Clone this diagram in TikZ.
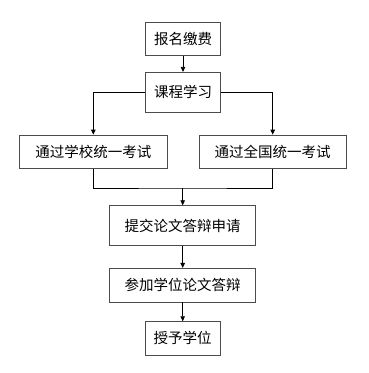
\documentclass[tikz,border=0pt]{standalone}
\usepackage{fontspec}
\setmainfont{Noto Sans CJK SC}
\usetikzlibrary{arrows.meta}
\begin{document}
\begin{tikzpicture}[x=1pt,y=-1pt,
  box/.style={draw=black!70,line width=0.8pt,inner sep=0pt,font=\fontsize{14.5}{16}\selectfont},
  conn/.style={draw=black,line width=0.8pt},
  arr/.style={conn,-{Triangle[length=5pt,width=4.5pt]}}]
\useasboundingbox (0,0) rectangle (368,373);
\node[box,minimum width=74.6pt,minimum height=33.4pt] (b1) at (183,39) {报名缴费};
\node[box,minimum width=74.6pt,minimum height=40pt] (b2) at (183,92.3) {课程学习};
\node[box,minimum width=148pt,minimum height=33.3pt] (b3) at (93.3,151.7) {通过学校统一考试};
\node[box,minimum width=146.7pt,minimum height=33.3pt] (b4) at (272.7,151.7) {通过全国统一考试};
\node[box,minimum width=146pt,minimum height=39.6pt] (b5) at (182.7,225.5) {提交论文答辩申请};
\node[box,minimum width=146pt,minimum height=33.7pt] (b6) at (182.7,285.2) {参加学位论文答辩};
\node[box,minimum width=75.3pt,minimum height=33.3pt] (b7) at (182.7,338.3) {授予学位};
\coordinate (m) at (182.7,188);
\draw[arr] (b1) -- (b2);
\draw[arr] (b2.west) -| (b3.north);
\draw[arr] (b2.east) -| (b4.north);
\draw[conn] (b3.south) |- (m) -| (b4.south);
\draw[arr] (m) -- (b5.north);
\draw[arr] (b5) -- (b6);
\draw[arr] (b6) -- (b7);
\end{tikzpicture}
\end{document}
